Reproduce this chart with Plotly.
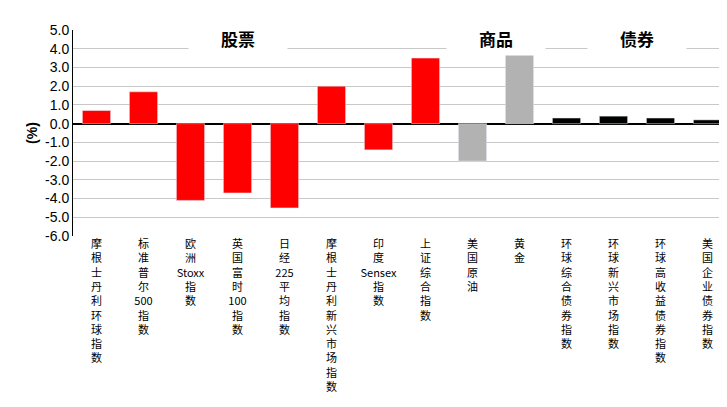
import plotly.graph_objects as go

categories = ["摩根士丹利环球指数", "标准普尔 500 指数", "欧洲 Stoxx 指数", "英国富时 100 指数",
              "日经 225 平均指数", "摩根士丹利新兴市场指数", "印度 Sensex 指数", "上证综合指数",
              "美国原油", "黄金", "环球综合债券指数", "环球新兴市场指数", "环球高收益债券指数", "美国企业债券指数"]
values = [0.7, 1.7, -4.1, -3.7, -4.5, 2.0, -1.4, 3.5, -2.0, 4.0, 0.3, 0.4, 0.3, 0.2]
colors = ["#FF0000"] * 8 + ["#B2B2B2"] * 2 + ["#000000"] * 4
groups = [("股票", 3.0), ("商品", 8.5), ("债券", 11.5)]
yticks = [5 - i for i in range(12)]

def vert(s):
    out = []
    for tok in s.split(" "):
        if tok.isascii():
            out.append(tok)
        else:
            out.extend(list(tok))
    return "<br>".join(out)

x = list(range(len(categories)))
fig = go.Figure(go.Bar(x=x, y=values, marker_color=colors, width=0.6))
fig.update_layout(
    width=727, height=407, margin=dict(l=65, r=4, t=22, b=179),
    plot_bgcolor="white", paper_bgcolor="white", showlegend=False,
    font=dict(family="Noto Sans CJK SC", size=13, color="black"),
    xaxis=dict(tickmode="array", tickvals=x, ticktext=[vert(c) for c in categories],
               tickangle=0, range=[-0.5, 13.5], showgrid=False, ticks="",
               tickfont=dict(size=11, family="Noto Sans CJK SC")),
    yaxis=dict(range=[-6, 5], tickvals=yticks, ticktext=[f"{v:.1f}" for v in yticks],
               showgrid=True, gridcolor="#C8C8C8", showline=True, linecolor="black",
               zeroline=True, zerolinecolor="black", zerolinewidth=1.5,
               tickfont=dict(size=14, family="Liberation Sans"),
               title=dict(text="<b>(%)</b>", font=dict(size=14, family="Liberation Sans"), standoff=4)),
)
for name, xp in groups:
    fig.add_annotation(x=xp, y=4.55, text=f"<b>{name}</b>", showarrow=False,
                       bgcolor="white", font=dict(size=17), borderpad=4, width=90)
fig.write_html("out.html")
